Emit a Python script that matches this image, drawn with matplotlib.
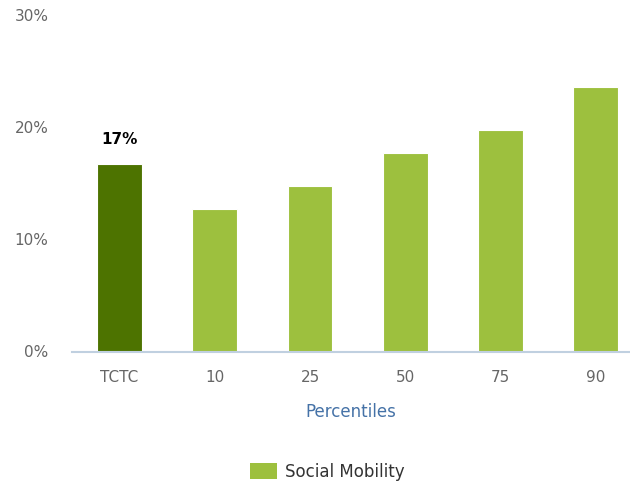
import matplotlib.pyplot as plt
from matplotlib.patches import Patch

categories = ['TCTC', '10', '25', '50', '75', '90']
values = [16.8, 12.8, 14.8, 17.8, 19.8, 23.7]
label_text = '17%'
bar_colors = ['#4d7300', '#9dc03e', '#9dc03e', '#9dc03e', '#9dc03e', '#9dc03e']

fig = plt.figure(figsize=(6.3, 4.86), dpi=100)
ax = fig.add_axes([72 / 630, 1 - 352 / 486, (630 - 72) / 630, (352 - 16) / 486])

x = range(len(categories))
ax.bar(x, values, width=0.47, color=bar_colors, edgecolor='white', linewidth=0.8, zorder=2)
ax.text(0, values[0] + 1.5, label_text, ha='center', va='bottom',
        fontsize=11, fontweight='bold', color='black')

ax.set_xlim(-0.5, 5.36)
ax.set_ylim(0, 30)
ax.set_yticks([0, 10, 20, 30])
ax.set_yticklabels(['0%', '10%', '20%', '30%'])
ax.set_xticks(list(x))
ax.set_xticklabels(categories)
ax.tick_params(axis='both', length=0, labelsize=11, labelcolor='#666666')
ax.tick_params(axis='y', pad=17)
ax.tick_params(axis='x', pad=13)
for lbl in ax.get_yticklabels():
    lbl.set_va('center')

for s in ['top', 'right', 'left']:
    ax.spines[s].set_visible(False)
ax.spines['bottom'].set_color('#c0d0e0')
ax.spines['bottom'].set_linewidth(1.5)

ax.set_xlabel('Percentiles', fontsize=12, color='#4572a7', labelpad=13)

handle = Patch(facecolor='#9dc03e', edgecolor='none')
fig.legend([handle], ['Social Mobility'], loc='center', bbox_to_anchor=(0.52, 1 - 472 / 486),
           frameon=False, fontsize=12, handlelength=1.6, handleheight=1.1,
           handletextpad=0.5, labelcolor='#333333')

fig.savefig('out.png', dpi=100)
